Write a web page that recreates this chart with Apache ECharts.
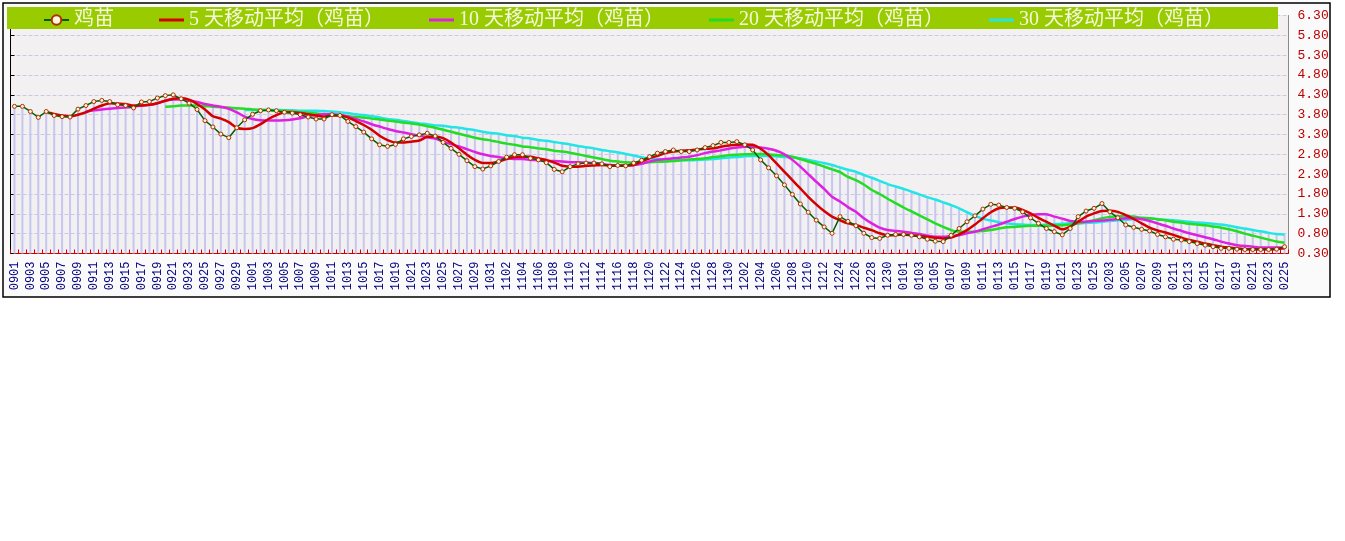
<!DOCTYPE html>
<html>
	<head>
		<meta charset="utf-8">
		<script src="https://cdn.jsdelivr.net/npm/echarts/dist/echarts.min.js"></script>
		<title>鸡苗</title>
	</head>
	<body>
		<style>
			html,
			body {
				margin: 0;
				background: #fff;
			}
			#main {
				width: 1345px;
				height: 541px;
			}
		</style>
		<div id="main"></div>
		<script type="text/javascript">
			// 日期
			var dates = ('0901 0902 0903 0904 0905 0906 0907 0908 0909 0910 0911 0912 0913 0914 0915 0916 0917 0918 0919 0920 ' +
				'0921 0922 0923 0924 0925 0926 0927 0928 0929 0930 ' +
				'1001 1002 1003 1004 1005 1006 1007 1008 1009 1010 1011 1012 1013 1014 1015 1016 1017 1018 1019 1020 ' +
				'1021 1022 1023 1024 1025 1026 1027 1028 1029 1030 1031 ' +
				'1101 1102 1103 1104 1105 1106 1107 1108 1109 1110 1111 1112 1113 1114 1115 1116 1117 1118 1119 1120 ' +
				'1121 1122 1123 1124 1125 1126 1127 1128 1129 1130 ' +
				'1201 1202 1203 1204 1205 1206 1207 1208 1209 1210 1211 1212 1223 1224 1225 1226 1227 1228 1229 1230 1231 ' +
				'0101 0102 0103 0104 0105 0106 0107 0108 0109 0110 0111 0112 0113 0114 0115 0116 0117 0118 0119 0120 ' +
				'0121 0122 0123 0124 0125 0126 ' +
				'0203 0204 0205 0206 0207 0208 0209 0210 0211 0212 0213 0214 0215 0216 0217 0218 0219 0220 0221 0222 ' +
				'0223 0224 0225').split(' ');

			// 鸡苗 价格
			var chick = [4.01, 4.01, 3.88, 3.73, 3.88, 3.78, 3.75, 3.74, 3.94, 4.03,
				4.13, 4.16, 4.13, 4.05, 4.03, 3.97, 4.12, 4.13, 4.22, 4.28,
				4.30, 4.20, 4.09, 3.93, 3.65, 3.49, 3.31, 3.22, 3.47, 3.67,
				3.81, 3.90, 3.92, 3.90, 3.86, 3.84, 3.80, 3.74, 3.69, 3.69,
				3.80, 3.78, 3.63, 3.50, 3.36, 3.19, 3.04, 3.00, 3.05, 3.19,
				3.25, 3.29, 3.33, 3.26, 3.10, 2.95, 2.80, 2.64, 2.49, 2.43,
				2.51, 2.62, 2.73, 2.79, 2.79, 2.70, 2.66, 2.59, 2.42, 2.36,
				2.49, 2.56, 2.58, 2.58, 2.56, 2.49, 2.52, 2.51, 2.58, 2.65,
				2.74, 2.83, 2.87, 2.91, 2.87, 2.87, 2.91, 2.97, 3.02, 3.10,
				3.10, 3.12, 3.04, 2.91, 2.66, 2.46, 2.26, 2.03, 1.79, 1.55,
				1.34, 1.14, 0.97, 0.81, 1.23, 1.11, 1.00, 0.81, 0.70, 0.68,
				0.76, 0.78, 0.78, 0.76, 0.72, 0.66, 0.61, 0.60, 0.76, 0.93,
				1.10, 1.25, 1.42, 1.54, 1.52, 1.46, 1.44, 1.35, 1.20, 1.06,
				0.93, 0.85, 0.77, 0.93, 1.23, 1.37, 1.44, 1.56, 1.35, 1.20,
				1.02, 0.96, 0.91, 0.87, 0.78, 0.72, 0.66, 0.64, 0.60, 0.55,
				0.51, 0.47, 0.43, 0.43, 0.41, 0.40, 0.40, 0.40, 0.40, 0.41,
				0.47
			];

			// 5 天移动平均
			var ma5 = [null, null, null, null, 3.87, 3.82, 3.78, 3.76, 3.80, 3.86,
				3.95, 4.03, 4.09, 4.08, 4.07, 4.03, 4.03, 4.05, 4.09, 4.15,
				4.20, 4.22, 4.18, 4.07, 3.93, 3.76, 3.70, 3.61, 3.47, 3.44,
				3.46, 3.56, 3.69, 3.79, 3.86, 3.86, 3.84, 3.81, 3.78, 3.75,
				3.78, 3.78, 3.73, 3.64, 3.54, 3.42, 3.27, 3.16, 3.10, 3.10,
				3.12, 3.15, 3.24, 3.25, 3.21, 3.10, 2.95, 2.79, 2.66, 2.58,
				2.58, 2.62, 2.68, 2.73, 2.74, 2.74, 2.70, 2.66, 2.59, 2.51,
				2.49, 2.49, 2.51, 2.52, 2.53, 2.52, 2.51, 2.52, 2.53, 2.62,
				2.70, 2.76, 2.83, 2.87, 2.89, 2.90, 2.92, 2.94, 2.95, 2.99,
				3.02, 3.04, 3.05, 3.04, 2.94, 2.78, 2.57, 2.36, 2.15, 1.94,
				1.73, 1.54, 1.37, 1.23, 1.14, 1.06, 1.02, 0.95, 0.89, 0.81,
				0.76, 0.76, 0.78, 0.76, 0.74, 0.72, 0.70, 0.68, 0.70, 0.78,
				0.89, 1.03, 1.19, 1.34, 1.44, 1.46, 1.46, 1.40, 1.31, 1.20,
				1.10, 1.00, 0.91, 0.98, 1.10, 1.23, 1.31, 1.37, 1.38, 1.35,
				1.27, 1.17, 1.06, 0.95, 0.88, 0.83, 0.77, 0.70, 0.64, 0.60,
				0.55, 0.51, 0.47, 0.45, 0.43, 0.41, 0.41, 0.41, 0.41, 0.41,
				0.43
			];

			// 10 天移动平均
			var ma10 = [null, null, null, null, null, null, null, null, null, 3.88,
				3.91, 3.93, 3.95, 3.97, 3.98, 4.00, 4.03, 4.05, 4.09, 4.15,
				4.18, 4.18, 4.16, 4.12, 4.07, 4.03, 4.00, 3.95, 3.86, 3.75,
				3.69, 3.66, 3.65, 3.65, 3.66, 3.68, 3.71, 3.76, 3.79, 3.81,
				3.81, 3.79, 3.75, 3.69, 3.63, 3.56, 3.50, 3.44, 3.39, 3.35,
				3.31, 3.27, 3.23, 3.20, 3.12, 3.06, 3.00, 2.93, 2.86, 2.80,
				2.76, 2.73, 2.70, 2.68, 2.68, 2.66, 2.65, 2.63, 2.63, 2.62,
				2.60, 2.60, 2.59, 2.58, 2.56, 2.53, 2.52, 2.52, 2.53, 2.56,
				2.62, 2.66, 2.68, 2.70, 2.72, 2.74, 2.78, 2.83, 2.87, 2.90,
				2.94, 2.97, 2.99, 2.99, 2.97, 2.94, 2.89, 2.80, 2.66, 2.49,
				2.30, 2.11, 1.93, 1.73, 1.61, 1.47, 1.35, 1.19, 1.06, 0.95,
				0.89, 0.87, 0.85, 0.82, 0.79, 0.75, 0.72, 0.72, 0.74, 0.76,
				0.81, 0.85, 0.91, 0.97, 1.03, 1.10, 1.17, 1.23, 1.27, 1.29,
				1.29, 1.23, 1.18, 1.12, 1.10, 1.10, 1.12, 1.13, 1.15, 1.17,
				1.19, 1.19, 1.17, 1.12, 1.06, 1.00, 0.93, 0.87, 0.81, 0.76,
				0.71, 0.66, 0.60, 0.55, 0.51, 0.49, 0.47, 0.45, 0.45, 0.45,
				0.45
			];

			// 20 天移动平均
			var ma20 = [null, null, null, null, null, null, null, null, null, null,
				null, null, null, null, null, null, null, null, null, 4.00,
				4.01, 4.03, 4.03, 4.03, 4.02, 4.00, 3.99, 3.98, 3.96, 3.95,
				3.93, 3.92, 3.91, 3.90, 3.90, 3.88, 3.86, 3.85, 3.83, 3.81,
				3.79, 3.78, 3.76, 3.74, 3.73, 3.70, 3.68, 3.65, 3.63, 3.60,
				3.58, 3.55, 3.51, 3.47, 3.42, 3.37, 3.32, 3.27, 3.22, 3.18,
				3.15, 3.11, 3.07, 3.04, 3.00, 2.98, 2.95, 2.93, 2.89, 2.87,
				2.84, 2.80, 2.76, 2.72, 2.68, 2.64, 2.62, 2.60, 2.59, 2.59,
				2.60, 2.61, 2.62, 2.63, 2.65, 2.67, 2.68, 2.70, 2.73, 2.75,
				2.78, 2.79, 2.80, 2.81, 2.81, 2.80, 2.78, 2.77, 2.74, 2.68,
				2.62, 2.56, 2.49, 2.42, 2.35, 2.23, 2.15, 2.04, 1.90, 1.80,
				1.68, 1.57, 1.46, 1.36, 1.26, 1.16, 1.06, 0.97, 0.89, 0.85,
				0.85, 0.85, 0.87, 0.89, 0.93, 0.96, 0.97, 0.99, 1.00, 1.00,
				1.00, 1.00, 1.01, 1.03, 1.06, 1.10, 1.14, 1.19, 1.22, 1.24,
				1.24, 1.23, 1.20, 1.19, 1.16, 1.14, 1.10, 1.08, 1.05, 1.03,
				1.01, 0.98, 0.95, 0.91, 0.86, 0.80, 0.75, 0.70, 0.65, 0.60,
				0.57
			];

			// 30 天移动平均
			var ma30 = [null, null, null, null, null, null, null, null, null, null,
				null, null, null, null, null, null, null, null, null, null,
				null, null, null, null, null, null, null, null, null, 3.92,
				3.92, 3.92, 3.92, 3.92, 3.91, 3.91, 3.90, 3.90, 3.90, 3.89,
				3.88, 3.86, 3.84, 3.81, 3.79, 3.76, 3.73, 3.69, 3.67, 3.64,
				3.61, 3.58, 3.56, 3.53, 3.52, 3.49, 3.47, 3.44, 3.41, 3.37,
				3.34, 3.32, 3.28, 3.26, 3.22, 3.20, 3.16, 3.14, 3.11, 3.08,
				3.05, 3.01, 2.98, 2.95, 2.91, 2.88, 2.85, 2.81, 2.77, 2.73,
				2.70, 2.68, 2.67, 2.66, 2.65, 2.65, 2.66, 2.67, 2.68, 2.70,
				2.72, 2.73, 2.75, 2.76, 2.76, 2.76, 2.75, 2.73, 2.72, 2.70,
				2.66, 2.62, 2.58, 2.53, 2.47, 2.41, 2.36, 2.28, 2.21, 2.13,
				2.05, 1.99, 1.93, 1.86, 1.79, 1.72, 1.66, 1.59, 1.52, 1.44,
				1.34, 1.25, 1.18, 1.13, 1.09, 1.06, 1.04, 1.03, 1.02, 1.02,
				1.03, 1.04, 1.05, 1.06, 1.06, 1.07, 1.08, 1.10, 1.12, 1.14,
				1.15, 1.17, 1.19, 1.19, 1.17, 1.15, 1.14, 1.12, 1.10, 1.08,
				1.07, 1.05, 1.03, 1.00, 0.96, 0.93, 0.89, 0.86, 0.82, 0.79,
				0.78
			];

			// 背景竖条的顶端
			var barTops = [4.01, 4.01, 3.88, 3.73, 3.88, 3.82, 3.78, 3.76, 3.94, 4.03,
				4.13, 4.16, 4.13, 4.08, 4.07, 4.03, 4.12, 4.13, 4.22, 4.28,
				4.30, 4.22, 4.18, 4.12, 4.07, 4.03, 4.00, 3.98, 3.96, 3.95,
				3.93, 3.92, 3.92, 3.92, 3.91, 3.91, 3.90, 3.90, 3.90, 3.89,
				3.88, 3.86, 3.84, 3.81, 3.79, 3.76, 3.73, 3.69, 3.67, 3.64,
				3.61, 3.58, 3.56, 3.53, 3.52, 3.49, 3.47, 3.44, 3.41, 3.37,
				3.34, 3.32, 3.28, 3.26, 3.22, 3.20, 3.16, 3.14, 3.11, 3.08,
				3.05, 3.01, 2.98, 2.95, 2.91, 2.88, 2.85, 2.81, 2.77, 2.73,
				2.74, 2.83, 2.87, 2.91, 2.89, 2.90, 2.92, 2.97, 3.02, 3.10,
				3.10, 3.12, 3.05, 3.04, 2.97, 2.94, 2.89, 2.80, 2.74, 2.70,
				2.66, 2.62, 2.58, 2.53, 2.47, 2.41, 2.36, 2.28, 2.21, 2.13,
				2.05, 1.99, 1.93, 1.86, 1.79, 1.72, 1.66, 1.59, 1.52, 1.44,
				1.34, 1.25, 1.42, 1.54, 1.52, 1.46, 1.46, 1.40, 1.31, 1.29,
				1.29, 1.23, 1.18, 1.12, 1.23, 1.37, 1.44, 1.56, 1.38, 1.35,
				1.27, 1.23, 1.20, 1.19, 1.17, 1.15, 1.14, 1.12, 1.10, 1.08,
				1.07, 1.05, 1.03, 1.00, 0.96, 0.93, 0.89, 0.86, 0.82, 0.79,
				0.78
			];

			var names = ['鸡苗', '5 天移动平均（鸡苗）', '10 天移动平均（鸡苗）', '20 天移动平均（鸡苗）', '30 天移动平均（鸡苗）'];

			// 图例里的细线
			var barIcon = 'path://M0,0 L25,0 L25,3 L0,3 Z';

			var myChart = echarts.init(document.getElementById('main'));

			function maLine(name, data, color, z) {
				return {
					name: name,
					type: 'line',
					data: data,
					symbol: 'none',
					smooth: 0.2,
					z: z,
					itemStyle: { color: color },
					lineStyle: { color: color, width: 2.5 }
				};
			}

			var option = {
				animation: false,
				backgroundColor: '#fff',
				graphic: [
					// 外框
					{ type: 'rect', z: -10, shape: { x: 3, y: 3, width: 1327, height: 294 },
						style: { fill: '#fbfafa', stroke: '#000', lineWidth: 1.5 } },
					// 绘图区底色
					{ type: 'rect', z: -9, shape: { x: 10.5, y: 15.5, width: 1278, height: 238 },
						style: { fill: '#f2f0f0' } },
					// 图例绿条
					{ type: 'rect', z: 50, shape: { x: 7, y: 7, width: 1271, height: 22 },
						style: { fill: '#99cc00' } }
				],
				legend: {
					z: 60,
					left: 43,
					top: 9,
					padding: 0,
					itemGap: 45,
					itemWidth: 25,
					itemHeight: 12,
					data: [
						{ name: names[0] },
						{ name: names[1], icon: barIcon },
						{ name: names[2], icon: barIcon },
						{ name: names[3], icon: barIcon },
						{ name: names[4], icon: barIcon }
					],
					textStyle: {
						color: '#f6f8dc',
						fontSize: 20,
						lineHeight: 22,
						fontFamily: "'Liberation Serif', 'Noto Sans CJK SC'"
					}
				},
				grid: {
					left: 10.5,
					right: 56.5,
					top: 15.5,
					bottom: 287.5
				},
				xAxis: {
					type: 'category',
					data: dates,
					boundaryGap: true,
					axisLine: { lineStyle: { color: '#cc0000', width: 1 } },
					axisTick: { show: true, inside: true, length: 4, interval: 0, lineStyle: { color: '#cc0000' } },
					axisLabel: {
						interval: 1,
						rotate: 90,
						margin: 8,
						color: '#000080',
						fontSize: 12,
						fontFamily: 'Liberation Mono'
					},
					splitLine: { show: false }
				},
				yAxis: [{
					type: 'value',
					position: 'right',
					min: 0.3,
					max: 6.3,
					interval: 0.5,
					axisLine: { show: true, lineStyle: { color: '#8a8a8a' } },
					axisTick: { show: false },
					axisLabel: {
						color: '#bb0000',
						fontSize: 13,
						margin: 9,
						fontFamily: 'Liberation Mono',
						formatter: function(v) { return v.toFixed(2); }
					},
					splitLine: { show: true, lineStyle: { color: '#c9c9e4', type: 'dashed' } }
				}, {
					type: 'value',
					position: 'left',
					min: 0.3,
					max: 6.3,
					interval: 0.5,
					axisLine: { show: true, lineStyle: { color: '#000' } },
					axisTick: { show: true, inside: true, length: 4, lineStyle: { color: '#000' } },
					axisLabel: { show: false },
					splitLine: { show: false }
				}],
				series: [{
						name: 'bars',
						type: 'bar',
						data: barTops,
						barWidth: 2,
						clip: true,
						silent: true,
						z: 1,
						itemStyle: { color: '#c6c6f0' }
					},
					maLine(names[4], ma30, '#22e6e6', 6),
					maLine(names[3], ma20, '#22dd22', 7),
					maLine(names[2], ma10, '#e020e0', 8),
					maLine(names[1], ma5, '#d40000', 9),
					{
						name: names[0],
						type: 'line',
						data: chick,
						symbol: 'circle',
						symbolSize: 4,
						z: 10,
						lineStyle: { color: '#006000', width: 1.5 },
						itemStyle: { color: '#fff6e0', borderColor: '#b03000', borderWidth: 1 }
					}
				]
			};

			myChart.setOption(option);
		</script>
	</body>
</html>
